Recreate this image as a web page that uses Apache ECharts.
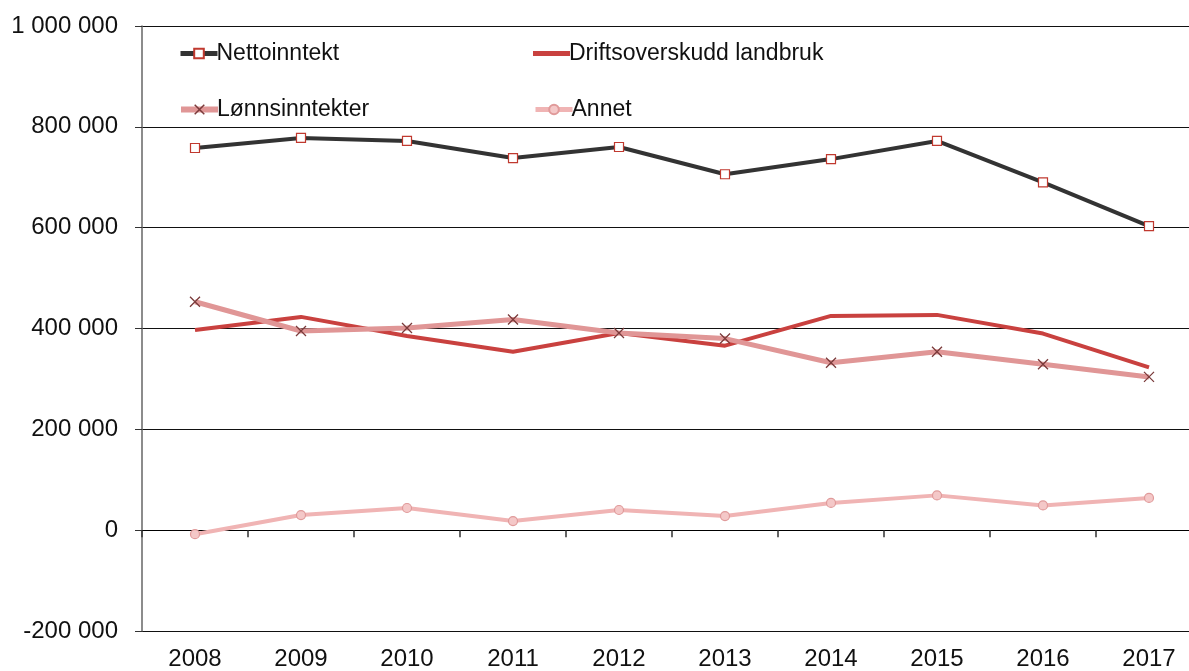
<!DOCTYPE html>
<html><head><meta charset="utf-8">
<script src="https://cdn.jsdelivr.net/npm/echarts@6/dist/echarts.min.js"></script>
<style>html,body{margin:0;padding:0;background:#fff}#c{width:1189px;height:671px}</style>
</head><body><div id="c"></div>
<script>
const years = ['2008','2009','2010','2011','2012','2013','2014','2015','2016','2017'];
const nettoinntekt = [758000, 778000, 772000, 738000, 760000, 706000, 736000, 772000, 690000, 603000];
const driftsoverskudd = [397000, 423000, 385000, 354000, 391000, 366000, 425000, 427000, 390000, 323000];
const lonnsinntekter = [453000, 395000, 401000, 418000, 391000, 380000, 332000, 354000, 329000, 304000];
const annet = [-8000, 30000, 44000, 18000, 40000, 28000, 54000, 69000, 49000, 64000];
const yTicks = [-200000, 0, 200000, 400000, 600000, 800000, 1000000];

const fmt = v => String(v).replace(/\B(?=(\d{3})+(?!\d))/g, ' ');
const font = 'Liberation Sans, Arial, sans-serif';
const chart = echarts.init(document.getElementById('c'));
function leg(item, left, top, lw, extra) {
  return Object.assign({data: [item], left: left, top: top, padding: 0, itemWidth: 37, itemHeight: 12, itemGap: 0,
    selectedMode: false, lineStyle: {width: lw},
    textStyle: {fontFamily: font, fontSize: 23, color: '#111', padding: [0,0,0,-6]}}, extra || {});
}
chart.setOption({
  animation: false,
  backgroundColor: '#fff',
  grid: {left: 142, right: -13, top: 26, bottom: 40, containLabel: false, outerBoundsMode: 'none'},
  legend: [
    leg('Nettoinntekt', 178, 42, 5),
    leg({name: 'Driftsoverskudd landbruk', icon: 'rect'}, 533, 42, 5, {itemHeight: 5}),
    leg('Lønnsinntekter', 178, 98, 6, {itemStyle: {borderColor: '#7a3a3a', borderWidth: 1.5}}),
    leg('Annet', 533, 98, 5)
  ],
  xAxis: [{
    type: 'category', data: years, boundaryGap: true, position: 'bottom',
    axisLine: {show: false, onZero: false},
    axisTick: {show: false},
    axisLabel: {margin: 16, fontFamily: font, fontSize: 24, color: '#111'},
    splitLine: {show: false}
  }, {
    type: 'category', data: years, boundaryGap: true, position: 'bottom',
    axisLine: {onZero: true, lineStyle: {color: '#000', width: 1}},
    axisTick: {show: true, length: 7, lineStyle: {color: '#333', width: 1.5}},
    axisLabel: {show: false},
    splitLine: {show: false}
  }],
  yAxis: {
    type: 'value', min: -200000, max: 1000000, interval: 200000,
    axisLine: {show: true, lineStyle: {color: '#666', width: 1.5}},
    axisTick: {show: true, length: 7, lineStyle: {color: '#333'}},
    axisLabel: {margin: 24, fontFamily: font, fontSize: 24, color: '#111',
      formatter: v => yTicks.includes(v) ? fmt(v) : ''},
    splitLine: {show: true, lineStyle: {color: '#111', width: 1}}
  },
  series: [
    {name: 'Nettoinntekt', type: 'line', data: nettoinntekt, z: 5,
      lineStyle: {color: '#333333', width: 4}, itemStyle: {color: '#fff', borderColor: '#c0392f', borderWidth: 1.2},
      symbol: 'rect', symbolSize: 9, showSymbol: true},
    {name: 'Driftsoverskudd landbruk', type: 'line', data: driftsoverskudd, z: 3,
      lineStyle: {color: '#c9413f', width: 4}, itemStyle: {color: '#c9413f'},
      symbol: 'none'},
    {name: 'Lønnsinntekter', type: 'line', data: lonnsinntekter, z: 4,
      lineStyle: {color: '#e09696', width: 5}, itemStyle: {color: '#7a3a3a', borderColor: '#7a3a3a', borderWidth: 1.3},
      symbol: 'path://M0,0L10,10M10,0L0,10', symbolSize: 10},
    {name: 'Annet', type: 'line', data: annet, z: 2,
      lineStyle: {color: '#f0b4b4', width: 4}, itemStyle: {color: '#f4c8c8', borderColor: '#e09a9a', borderWidth: 1.2},
      symbol: 'circle', symbolSize: 9}
  ]
});
</script></body></html>
